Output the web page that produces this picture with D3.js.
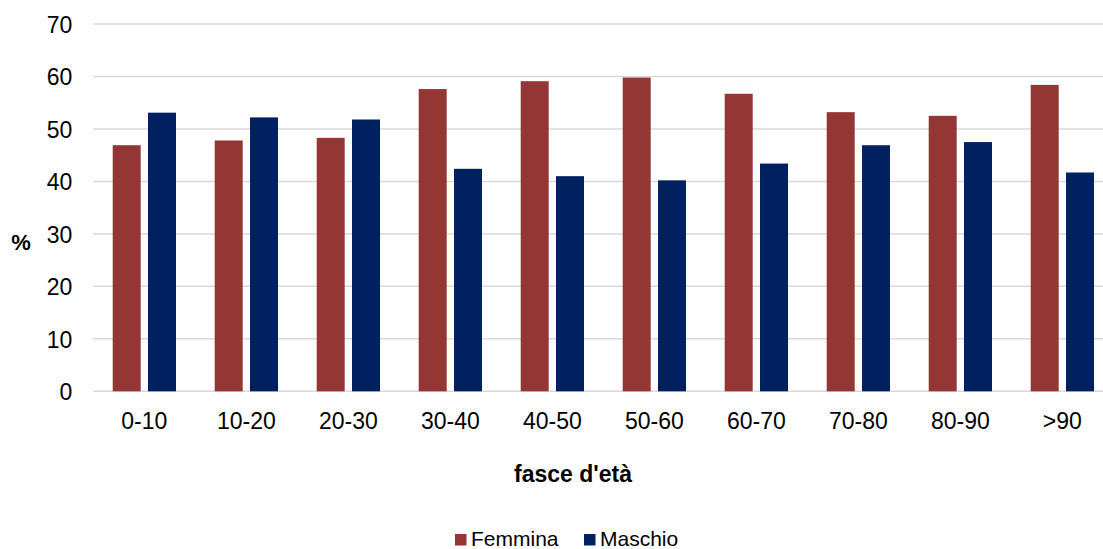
<!DOCTYPE html>
<html>
<head>
<meta charset="utf-8">
<script src="https://cdn.jsdelivr.net/npm/d3@7/dist/d3.min.js"></script>
<style>
html,body{margin:0;padding:0;background:#fff;}
svg{display:block;font-family:Arial,"Liberation Sans",sans-serif;}
</style>
</head>
<body>
<svg id="chart" width="1103" height="549"></svg>
<script>
const categories = ["0-10","10-20","20-30","30-40","40-50","50-60","60-70","70-80","80-90",">90"];
const femmina = [46.9,47.8,48.3,57.6,59.1,59.8,56.7,53.2,52.5,58.4];
const maschio = [53.1,52.2,51.8,42.4,41.0,40.2,43.4,46.9,47.5,41.7];
const seriesNames = ["Femmina","Maschio"];
const seriesColors = ["#943634","#002060"];
const yTicks = [0,10,20,30,40,50,60,70];

(function(){
const svg = d3.select("#chart");
const pLeft = 93.3, pRight = 1113.3, pTop = 24, pBottom = 391.3;

const x = d3.scaleBand().domain(categories).range([pLeft, pRight]).paddingInner(0).paddingOuter(0);
const x1 = d3.scaleBand().domain(seriesNames).range([19.4, 82.7]).paddingInner(0.207).paddingOuter(0);
const y = d3.scaleLinear().domain([0,70]).range([pBottom, pTop]);

// gridlines
svg.append("g").selectAll("line").data(yTicks).join("line")
  .attr("x1", pLeft).attr("x2", 1103)
  .attr("y1", d => y(d)).attr("y2", d => y(d))
  .attr("stroke", "#d9d9d9").attr("stroke-width", 1.5);

const yAxis = d3.axisLeft(y).tickValues(yTicks).tickSize(0).tickPadding(21);
const gY = svg.append("g").attr("transform", `translate(${pLeft},0)`).call(yAxis);
gY.select(".domain").remove();
gY.selectAll("text").attr("font-size", 23).attr("fill", "#000").attr("font-family", "Arial, 'Liberation Sans', sans-serif").attr("dy", "0.36em");

// bars
const data = categories.map((c,i) => ({c, vals: [femmina[i], maschio[i]]}));
const groups = svg.append("g").selectAll("g").data(data).join("g")
  .attr("transform", d => `translate(${x(d.c)},0)`);
groups.selectAll("rect").data(d => d.vals.map((v,j) => ({name: seriesNames[j], v, j}))).join("rect")
  .attr("x", d => x1(d.name))
  .attr("width", x1.bandwidth())
  .attr("y", d => y(d.v))
  .attr("height", d => y(0) - y(d.v))
  .attr("fill", d => seriesColors[d.j]);

// x axis labels
const xAxis = d3.axisBottom(x).tickSize(0).tickPadding(21);
const gX = svg.append("g").attr("transform", `translate(0,${pBottom})`).call(xAxis);
gX.select(".domain").remove();
gX.selectAll("text").attr("font-size", 23).attr("fill", "#000").attr("font-family", "Arial, 'Liberation Sans', sans-serif");

// axis titles
svg.append("text").attr("x", 573).attr("y", 482).attr("text-anchor", "middle")
  .attr("font-size", 23).attr("font-weight", "bold").text("fasce d'età");
svg.append("text").attr("x", 21).attr("y", 250).attr("text-anchor", "middle")
  .attr("font-size", 22).attr("font-weight", "bold").text("%");

// legend
const legendX = [455, 584];
const lg = svg.append("g").selectAll("g").data(seriesNames).join("g")
  .attr("transform", (d,i) => `translate(${legendX[i]},534)`);
lg.append("rect").attr("width", 11.5).attr("height", 11.5).attr("fill", (d,i) => seriesColors[i]);
lg.append("text").attr("x", 16).attr("y", 11.5).attr("font-size", 21).attr("fill", "#000").text(d => d);
})();
</script>
</body>
</html>
